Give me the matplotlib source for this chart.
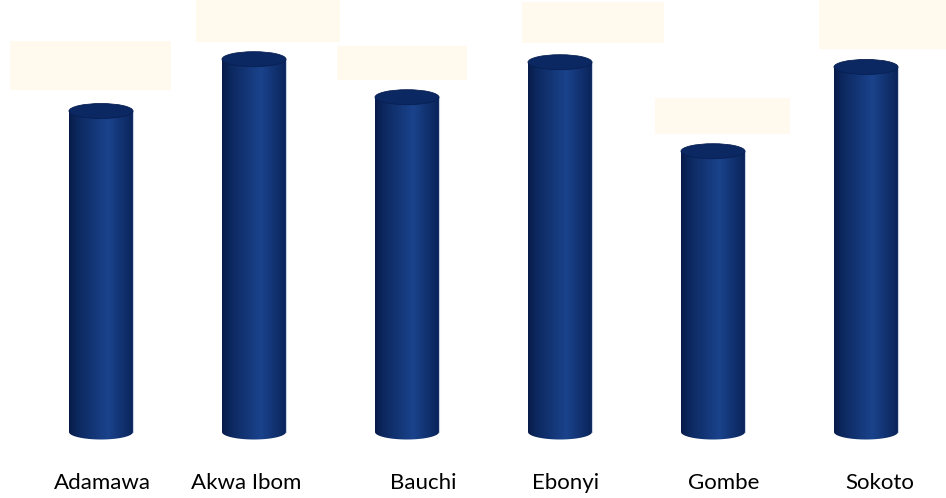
import numpy as np
import matplotlib
matplotlib.use('Agg')
import matplotlib.pyplot as plt
from matplotlib.patches import Rectangle, Ellipse, PathPatch
from matplotlib.path import Path
from matplotlib.colors import LinearSegmentedColormap

# data (arbitrary units)
states = ['Adamawa', 'Akwa Ibom', 'Bauchi', 'Ebonyi', 'Gombe', 'Sokoto']
values = [74.3, 86.3, 77.5, 85.6, 65.0, 84.5]

# label-box placement (pixels): centre shift from bar, width, height, gap above bar top
box_dx = [-11, 14, -5, 33, 9, 16]
box_w = [161, 144, 130, 142, 135, 127]
box_h = [49, 44, 34, 41, 36, 52]
box_gap = [14, 10, 10, 12, 10, 10]
# tick label shifts (pixels)
lab_dx = [1, -8, 16, 6, 11, 14]

W, H, DPI = 946, 498, 100
base_px = 432          # baseline position from top
px_per_x = 153.0       # spacing between bars in pixels
first_px = 101.0
bar_w = 64 / px_per_x
ymax = 100.0
px_per_y = base_px / ymax
ymin = -(H - base_px) / px_per_y
ell_h = 15 / px_per_y  # ellipse height in data units

fig = plt.figure(figsize=(W / DPI, H / DPI), dpi=DPI)
ax = fig.add_axes([0, 0, 1, 1])
ax.set_xlim(-first_px / px_per_x, (W - first_px) / px_per_x)
ax.set_ylim(ymin, ymax)
ax.axis('off')

cmap = LinearSegmentedColormap.from_list('cyl', [
    (0.0, '#081c4a'), (0.15, '#0d2961'), (0.6, '#1a438c'),
    (0.85, '#102f6c'), (1.0, '#0a245a')])
grad = np.linspace(0, 1, 256).reshape(1, -1)

for i, v in enumerate(values):
    x0, x1 = i - bar_w / 2, i + bar_w / 2
    # body with rounded bottom
    t = np.linspace(np.pi, 2 * np.pi, 40)
    bx = i + bar_w / 2 * np.cos(t)
    by = ell_h / 2 * np.sin(t)
    verts = list(zip(bx, by)) + [(x1, v), (x0, v), (x0, 0)]
    codes = [Path.MOVETO] + [Path.LINETO] * (len(verts) - 2) + [Path.CLOSEPOLY]
    body = PathPatch(Path(verts, codes), facecolor='none', edgecolor='none')
    ax.add_patch(body)
    im = ax.imshow(grad, cmap=cmap, aspect='auto',
                   extent=(x0, x1, -ell_h, v), zorder=2)
    im.set_clip_path(body)
    ax.plot([x1, x1], [0, v], color='#c9d3e6', lw=0.8, zorder=3)
    # top cap
    ax.add_patch(Ellipse((i, v), bar_w, ell_h, facecolor='#0b2862',
                         edgecolor='#081f52', lw=0.6, zorder=4))
    # empty label box
    bw = box_w[i] / px_per_x
    bh = box_h[i] / px_per_y
    cx = i + box_dx[i] / px_per_x
    yb = v + ell_h / 2 + box_gap[i] / px_per_y
    ax.add_patch(Rectangle((cx - bw / 2, yb), bw, bh, facecolor='#fff9ee',
                           edgecolor='none', zorder=1))
    ax.text(i + lab_dx[i] / px_per_x, -51 / px_per_y, states[i],
            ha='center', va='center', fontsize=16, family='Lato',
            color='#000000')

ax.set_aspect('auto')
fig.savefig('out.png', dpi=DPI)
